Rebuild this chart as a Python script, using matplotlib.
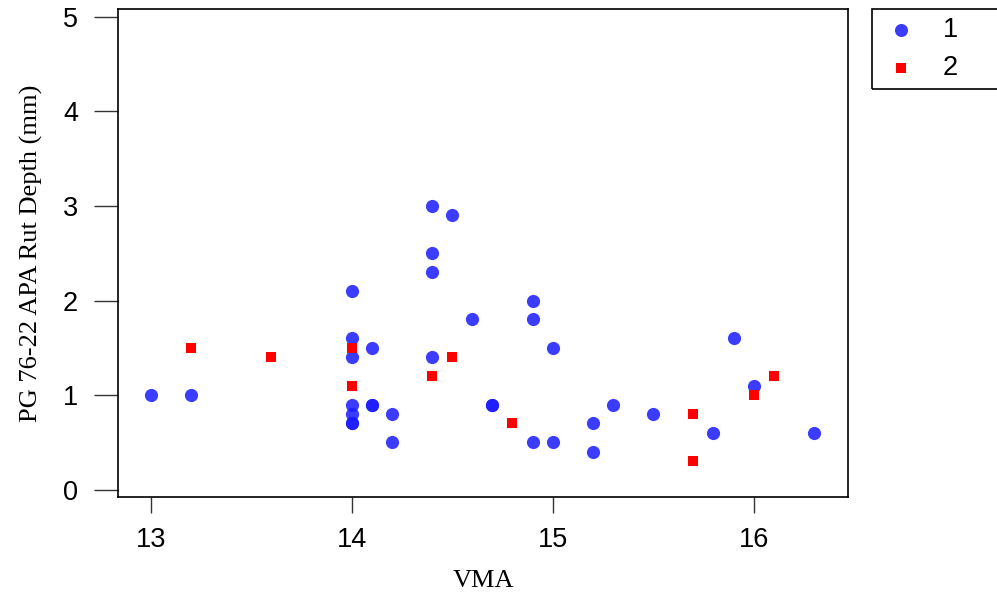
import matplotlib
matplotlib.use("Agg")
import matplotlib.pyplot as plt
from matplotlib.patches import Rectangle

# group 1 (blue circles)
vma_1 = [13.0, 13.2, 14.0, 14.0, 14.0, 14.1, 14.0, 14.0, 14.0, 14.0, 14.1, 14.1,
         14.2, 14.2, 14.4, 14.5, 14.4, 14.4, 14.6, 14.4, 14.7, 14.7,
         14.9, 14.9, 15.0, 14.9, 15.0, 15.2, 15.2, 15.3, 15.5, 15.8, 15.9, 16.0, 16.3]
rut_1 = [1.0, 1.0, 2.1, 1.6, 1.4, 1.5, 0.9, 0.8, 0.7, 0.7, 0.9, 0.9,
         0.8, 0.5, 3.0, 2.9, 2.5, 2.3, 1.8, 1.4, 0.9, 0.9,
         2.0, 1.8, 1.5, 0.5, 0.5, 0.7, 0.4, 0.9, 0.8, 0.6, 1.6, 1.1, 0.6]

# group 2 (red squares)
vma_2 = [13.2, 13.6, 14.0, 14.0, 14.4, 14.5, 14.8, 15.7, 15.7, 16.0, 16.1]
rut_2 = [1.5, 1.4, 1.5, 1.1, 1.2, 1.4, 0.7, 0.8, 0.3, 1.0, 1.2]

legend_labels = ["1", "2"]
x_ticks = [13, 14, 15, 16]
y_ticks = [0, 1, 2, 3, 4, 5]

W, H = 997, 594
fig = plt.figure(figsize=(W / 100, H / 100), dpi=100)
ax = fig.add_axes([118.3 / W, 1 - 497 / H, (847.7 - 118.3) / W, (497 - 9.3) / H])

blue = (0.1, 0.1, 1.0)
ax.scatter(vma_1, rut_1, s=90, marker="o", color=blue, alpha=0.85, linewidths=0, zorder=3)
ax.scatter(vma_2, rut_2, s=52, marker="s", color="red", linewidths=0, zorder=3)

ax.set_xlim(12.839, 16.468)
ax.set_ylim(-0.077, 5.078)
ax.set_xticks(x_ticks)
ax.set_yticks(y_ticks)

tick_font = {"family": "Liberation Sans", "size": 19.5}
ax.set_xticklabels([str(t) for t in x_ticks], fontdict=tick_font)
ax.set_yticklabels([str(t) for t in y_ticks], fontdict=tick_font)
ax.tick_params(axis="x", direction="out", length=11.5, width=1.0, pad=10, color="#333333")
ax.tick_params(axis="y", direction="out", length=17, width=1.0, pad=12, color="#333333")
for sp in ax.spines.values():
    sp.set_linewidth(1.2)
    sp.set_color("black")

label_font = {"family": "Liberation Serif", "size": 19}
ax.set_xlabel("VMA", fontdict=label_font, labelpad=12)
ax.set_ylabel("PG 76-22 APA Rut Depth (mm)", fontdict=label_font, labelpad=14)

# legend box outside the plot, running off the right edge
fig.patches.append(Rectangle((871.7 / W, 1 - 89 / H), 0.2, (89 - 9.3) / H,
                             transform=fig.transFigure, fill=False,
                             edgecolor="black", linewidth=1.2))
fig.lines.append(plt.Line2D([901 / W], [1 - 30 / H], marker="o", markersize=9.4,
                            color=blue, alpha=0.85, markeredgewidth=0,
                            transform=fig.transFigure))
fig.lines.append(plt.Line2D([901 / W], [1 - 68 / H], marker="s", markersize=7.2,
                            color="red", markeredgewidth=0, transform=fig.transFigure))
for lab, yy in zip(legend_labels, [30, 68]):
    fig.text(950 / W, 1 - yy / H, lab, ha="center", va="center",
             family="Liberation Sans", size=19.5)

fig.savefig("out.png", dpi=100)
